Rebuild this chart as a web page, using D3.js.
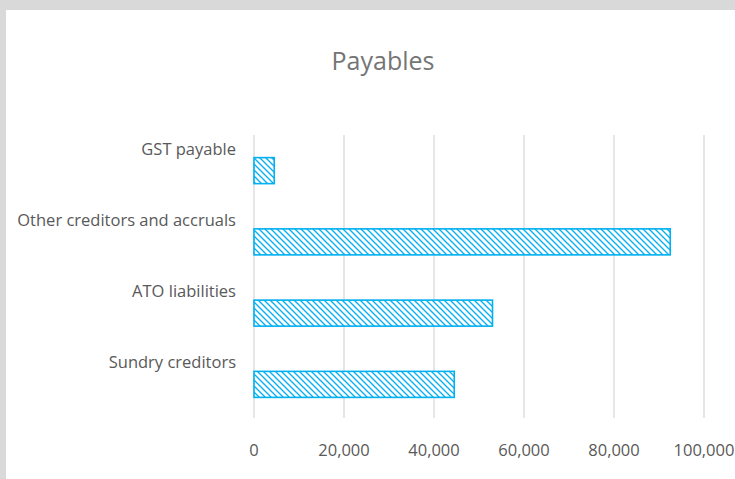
<!DOCTYPE html>
<html>
<head>
<meta charset="utf-8">
<script src="https://cdn.jsdelivr.net/npm/d3@7"></script>
<style>
  html, body { margin: 0; padding: 0; background: #d9d9d9; }
  svg { display: block; }
</style>
</head>
<body>
<script>
const categories = ["GST payable", "Other creditors and accruals", "ATO liabilities", "Sundry creditors"];
const values = [4500, 92500, 53000, 44500];
const ticks = [0, 20000, 40000, 60000, 80000, 100000];

const W = 735, H = 479;
const svg = d3.select("body").append("svg")
  .attr("width", W)
  .attr("height", H);

// chart area (grey frame shows at top and left)
svg.append("rect")
  .attr("x", 6).attr("y", 10)
  .attr("width", W - 6).attr("height", H - 10)
  .attr("fill", "#fff");

const defs = svg.append("defs");
const pat = defs.append("pattern")
  .attr("id", "hatch")
  .attr("patternUnits", "userSpaceOnUse")
  .attr("width", 6).attr("height", 6);
pat.append("rect").attr("width", 6).attr("height", 6).attr("fill", "#fff");
pat.append("path")
  .attr("d", "M0,0 L6,6 M-3,3 L3,9 M3,-3 L9,3")
  .attr("stroke", "#00b0f0")
  .attr("stroke-width", 1.3);

const x = d3.scaleLinear().domain([0, 100000]).range([254, 704]);
const y = d3.scaleBand().domain(categories).range([135, 420]);

// title
svg.append("text")
  .attr("x", 383).attr("y", 70)
  .attr("text-anchor", "middle")
  .attr("font-family", "Open Sans, sans-serif")
  .attr("font-size", 25)
  .attr("fill", "#757575")
  .text("Payables");

// gridlines
svg.append("g")
  .selectAll("line")
  .data(ticks)
  .join("line")
  .attr("x1", d => x(d)).attr("x2", d => x(d))
  .attr("y1", 135).attr("y2", 418)
  .attr("stroke", "#d9d9d9")
  .attr("stroke-width", 1.3);

// tick labels
svg.append("g")
  .selectAll("text")
  .data(ticks)
  .join("text")
  .attr("x", d => x(d))
  .attr("y", 456)
  .attr("text-anchor", "middle")
  .attr("font-family", "Open Sans, sans-serif")
  .attr("font-size", 16.5)
  .attr("fill", "#595959")
  .text(d => d3.format(",")(d));

// bars
const barH = 26;
svg.append("g")
  .selectAll("rect")
  .data(values)
  .join("rect")
  .attr("x", x(0))
  .attr("y", (d, i) => y(categories[i]) + y.bandwidth() / 2 - barH / 2)
  .attr("width", d => x(d) - x(0))
  .attr("height", barH)
  .attr("fill", "url(#hatch)")
  .attr("stroke", "#00b0f0")
  .attr("stroke-width", 1.6);

// category labels (sit above each bar)
svg.append("g")
  .selectAll("text")
  .data(categories)
  .join("text")
  .attr("x", 236)
  .attr("y", d => y(d) + y.bandwidth() / 2 - 16)
  .attr("text-anchor", "end")
  .attr("font-family", "Open Sans, sans-serif")
  .attr("font-size", 16.5)
  .attr("fill", "#595959")
  .text(d => d);
</script>
</body>
</html>
